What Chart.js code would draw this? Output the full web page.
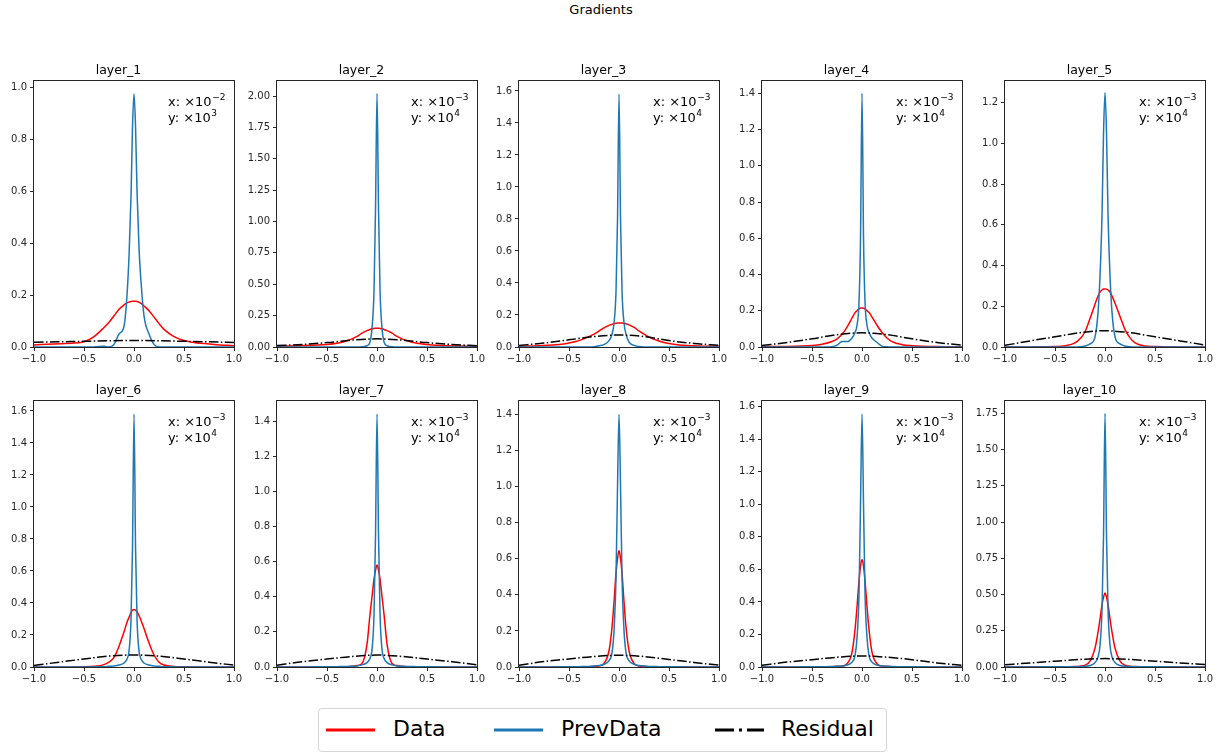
<!DOCTYPE html>
<html>
<head>
<meta charset="utf-8">
<script src="https://cdn.jsdelivr.net/npm/chart.js@4.4.0/dist/chart.umd.min.js"></script>
<style>
  body { margin:0; background:#fff; width:1226px; height:756px; overflow:hidden; position:relative; font-family:"DejaVu Sans", sans-serif; }
  .cell { position:absolute; width:244px; height:310px; }
  #suptitle { position:absolute; top:2px; left:0; width:1202px; text-align:center; font-size:13px; color:#000; }
  #legend { position:absolute; left:318px; top:708px; width:567px; height:42px; border:1px solid #d6d6d6; border-radius:4px; background:#fff; }
  #legend .ln { position:absolute; top:14px; }
  #legend .tx { position:absolute; top:7px; font-size:22px; color:#000; line-height:26px; }
</style>
</head>
<body>
<div id="suptitle">Gradients</div>
<div id="grid"></div>
<div id="legend">
  <svg class="ln" style="left:7px" width="49" height="14"><line x1="0" y1="7" x2="49" y2="7" stroke="#ff0000" stroke-width="3"/></svg>
  <span class="tx" style="left:74px">Data</span>
  <svg class="ln" style="left:175px" width="49" height="14"><line x1="0" y1="7" x2="49" y2="7" stroke="#1f77b4" stroke-width="3"/></svg>
  <span class="tx" style="left:242px">PrevData</span>
  <svg class="ln" style="left:396px" width="49" height="14"><line x1="0" y1="7" x2="49" y2="7" stroke="#000" stroke-width="3" stroke-dasharray="19,5,3,5"/></svg>
  <span class="tx" style="left:462px">Residual</span>
</div>
<script>
// shared x grid for Data / PrevData, coarser grid for Residual
const X  = [-1, -0.8, -0.6, -0.5, -0.4, -0.3, -0.25, -0.2, -0.15, -0.1, -0.07, -0.05, -0.03, -0.015, 0, 0.015, 0.03, 0.05, 0.07, 0.1, 0.15, 0.2, 0.25, 0.3, 0.4, 0.5, 0.6, 0.8, 1];
const RX = [-1, -0.75, -0.5, -0.25, 0, 0.25, 0.5, 0.75, 1];

const layers = ['layer_1','layer_2','layer_3','layer_4','layer_5','layer_6','layer_7','layer_8','layer_9','layer_10'];
const xExp = ['2','3','3','3','3','3','3','3','3','3'];
const yExp = ['3','4','4','4','4','4','4','4','4','4'];
const yMax  = [1.024, 2.12, 1.662, 1.468, 1.306, 1.662, 1.514, 1.474, 1.635, 1.835];
const yStep = [0.2, 0.25, 0.2, 0.2, 0.2, 0.2, 0.2, 0.2, 0.2, 0.25];

const dataL1 = [0.008,0.012,0.015,0.02,0.04,0.075,0.095,0.12,0.145,0.162,0.17,0.173,0.175,0.176,0.176,0.176,0.175,0.172,0.168,0.158,0.14,0.115,0.09,0.068,0.04,0.025,0.017,0.01,0.005];
const prevL1 = [0,0,0,0,0,0.003,0,0.01,0.05,0.08,0.2,0.35,0.58,0.85,0.975,0.85,0.6,0.38,0.25,0.12,0.05,0.01,0,0,0,0,0,0,0];
const resL1  = [0.018,0.02,0.022,0.024,0.025,0.024,0.022,0.02,0.017];

const dataL2 = [0.005,0.01,0.015,0.02,0.03,0.05,0.065,0.085,0.11,0.13,0.14,0.145,0.148,0.15,0.15,0.15,0.148,0.145,0.14,0.13,0.11,0.085,0.065,0.05,0.03,0.02,0.014,0.008,0.004];
const prevL2 = [0,0,0,0,0,0,0,0,0.002,0.01,0.04,0.15,0.45,1.1,2.02,1.1,0.45,0.15,0.04,0.01,0.002,0,0,0,0,0,0,0,0];
const resL2  = [0.012,0.02,0.035,0.055,0.065,0.055,0.035,0.02,0.01];

const dataL3 = [0.005,0.008,0.015,0.025,0.04,0.065,0.08,0.1,0.12,0.135,0.142,0.146,0.148,0.15,0.15,0.15,0.15,0.148,0.145,0.138,0.122,0.1,0.08,0.062,0.038,0.022,0.013,0.006,0.004];
const prevL3 = [0,0,0,0,0,0,0.002,0.008,0.015,0.04,0.08,0.15,0.35,0.8,1.58,0.8,0.35,0.15,0.08,0.03,0.01,0.003,0,0,0,0,0,0,0];
const resL3  = [0.01,0.025,0.045,0.065,0.075,0.065,0.04,0.022,0.01];

const dataL4 = [0.002,0.003,0.005,0.008,0.015,0.03,0.045,0.07,0.11,0.16,0.19,0.2,0.21,0.215,0.215,0.214,0.21,0.2,0.19,0.165,0.12,0.08,0.05,0.03,0.013,0.007,0.004,0.002,0.001];
const prevL4 = [0,0,0,0,0,0.002,0.01,0.03,0.03,0.05,0.08,0.12,0.25,0.6,1.4,0.6,0.25,0.12,0.08,0.05,0.025,0.005,0.001,0,0,0,0,0,0];
const resL4  = [0.008,0.025,0.045,0.068,0.078,0.068,0.045,0.025,0.01];

const dataL5 = [0,0,0.001,0.002,0.006,0.02,0.04,0.075,0.14,0.21,0.25,0.27,0.28,0.285,0.285,0.284,0.28,0.27,0.25,0.215,0.15,0.085,0.045,0.02,0.005,0.002,0.001,0,0];
const prevL5 = [0,0,0,0,0,0,0.001,0.005,0.015,0.05,0.17,0.35,0.65,1.05,1.25,1.05,0.65,0.35,0.17,0.05,0.015,0.005,0.001,0,0,0,0,0,0];
const resL5  = [0.008,0.03,0.05,0.07,0.08,0.07,0.05,0.03,0.01];

const dataL6 = [0,0,0,0.001,0.004,0.015,0.03,0.06,0.13,0.22,0.28,0.31,0.34,0.355,0.36,0.355,0.345,0.32,0.29,0.24,0.15,0.075,0.03,0.012,0.003,0.001,0,0,0];
const prevL6 = [0,0,0,0,0.001,0.002,0.004,0.006,0.012,0.025,0.05,0.1,0.3,0.75,1.58,0.75,0.3,0.1,0.05,0.025,0.012,0.006,0.004,0.002,0.001,0,0,0,0];
const resL6  = [0.01,0.03,0.05,0.068,0.075,0.068,0.05,0.03,0.012];

const dataL7 = [0,0,0,0.001,0.001,0.002,0.004,0.008,0.02,0.13,0.3,0.4,0.5,0.55,0.58,0.55,0.5,0.4,0.3,0.13,0.02,0.008,0.004,0.002,0.001,0.001,0,0,0];
const prevL7 = [0,0,0.001,0.001,0.002,0.003,0.004,0.006,0.012,0.025,0.05,0.1,0.3,0.75,1.44,0.75,0.3,0.1,0.05,0.025,0.012,0.006,0.004,0.003,0.002,0.001,0.001,0,0];
const resL7  = [0.01,0.03,0.045,0.06,0.068,0.06,0.045,0.03,0.012];

const dataL8 = [0,0,0,0.001,0.001,0.002,0.004,0.006,0.02,0.09,0.22,0.36,0.52,0.6,0.645,0.6,0.52,0.36,0.22,0.09,0.02,0.006,0.004,0.002,0.001,0.001,0,0,0];
const prevL8 = [0,0,0.001,0.001,0.002,0.003,0.005,0.008,0.015,0.035,0.08,0.2,0.5,1.0,1.4,1.0,0.5,0.2,0.08,0.035,0.015,0.008,0.005,0.003,0.002,0.001,0.001,0,0];
const resL8  = [0.01,0.03,0.045,0.058,0.065,0.058,0.042,0.025,0.01];

const dataL9 = [0,0,0,0.001,0.001,0.002,0.004,0.006,0.02,0.09,0.23,0.37,0.53,0.62,0.66,0.62,0.53,0.37,0.23,0.09,0.02,0.006,0.004,0.002,0.001,0.001,0,0,0];
const prevL9 = [0,0,0.001,0.001,0.002,0.003,0.004,0.006,0.012,0.03,0.07,0.18,0.45,1.0,1.555,1.0,0.45,0.18,0.07,0.03,0.012,0.006,0.004,0.003,0.002,0.001,0.001,0,0];
const resL9  = [0.01,0.03,0.045,0.06,0.068,0.06,0.045,0.025,0.01];

const dataL10 = [0,0,0.001,0.002,0.002,0.004,0.006,0.012,0.04,0.13,0.24,0.33,0.43,0.48,0.51,0.48,0.43,0.33,0.24,0.13,0.04,0.012,0.006,0.004,0.002,0.002,0.001,0,0];
const prevL10 = [0,0,0.001,0.001,0.002,0.002,0.003,0.005,0.01,0.03,0.07,0.15,0.4,0.9,1.75,0.9,0.4,0.15,0.07,0.03,0.01,0.005,0.003,0.002,0.002,0.001,0.001,0,0];
const resL10  = [0.015,0.028,0.04,0.052,0.058,0.052,0.04,0.028,0.018];

const dataY = [dataL1,dataL2,dataL3,dataL4,dataL5,dataL6,dataL7,dataL8,dataL9,dataL10];
const prevY = [prevL1,prevL2,prevL3,prevL4,prevL5,prevL6,prevL7,prevL8,prevL9,prevL10];
const resY  = [resL1,resL2,resL3,resL4,resL5,resL6,resL7,resL8,resL9,resL10];

function pts(xs, ys){ return xs.map((x,i) => ({x:x, y:ys[i]})); }
function fmt(v, d){ return v.toFixed(d).replace('-', '\u2212'); }

// matplotlib-like box around the axes + the scale annotation
const framePlugin = {
  id: 'frame',
  afterDraw(chart){
    const a = chart.chartArea, c = chart.ctx, i = chart.options.plugins.frame.idx;
    c.save();
    c.strokeStyle = '#262626';
    c.lineWidth = 1;
    c.strokeRect(Math.round(a.left) - 0.5, Math.round(a.top) - 0.5, Math.round(a.right - a.left) + 1, Math.round(a.bottom - a.top) + 1);
    c.fillStyle = '#000';
    c.textBaseline = 'alphabetic';
    const lines = [['x: \u00d710', '\u2212' + xExp[i]], ['y: \u00d710', yExp[i]]];
    lines.forEach((ln, k) => {
      const bx = a.left + 134, by = a.top + 25 + k * 16;
      c.font = '13px "DejaVu Sans"';
      c.fillText(ln[0], bx, by);
      const w = c.measureText(ln[0]).width;
      c.font = '9px "DejaVu Sans"';
      c.fillText(ln[1], bx + w + 0.5, by - 6);
    });
    c.restore();
  }
};

const grid = document.getElementById('grid');
layers.forEach((name, i) => {
  const col = i % 5, row = Math.floor(i / 5);
  const div = document.createElement('div');
  div.className = 'cell';
  div.style.left = Math.round(242.7 * col) + 'px';
  div.style.top = (row === 0 ? 81 - 22 : 401 - 22) + 'px';
  const cv = document.createElement('canvas');
  div.appendChild(cv);
  grid.appendChild(div);

  new Chart(cv.getContext('2d'), {
    type: 'line',
    data: {
      datasets: [
        { label: 'Data', data: pts(X, dataY[i]), borderColor: '#ff0000', borderWidth: 1.5, order: 2 },
        { label: 'PrevData', data: pts(X, prevY[i]), borderColor: '#1f77b4', borderWidth: 1.5, order: 1 },
        { label: 'Residual', data: pts(RX, resY[i]), borderColor: '#000000', borderWidth: 1.5, borderDash: [9.6, 2.4, 1.5, 2.4], order: 0 }
      ]
    },
    options: {
      responsive: true,
      maintainAspectRatio: false,
      animation: false,
      events: [],
      layout: { padding: { left: 0, right: 7, top: 0, bottom: 0 } },
      elements: { point: { radius: 0 }, line: { cubicInterpolationMode: 'monotone', fill: false } },
      plugins: {
        legend: { display: false },
        tooltip: { enabled: false },
        title: { display: true, text: name, color: '#000',
                 font: { family: 'DejaVu Sans', size: 12.5, weight: 'normal', lineHeight: 1.2 },
                 padding: { top: 4, bottom: 3 } },
        frame: { idx: i }
      },
      scales: {
        x: {
          type: 'linear', min: -1, max: 1,
          afterFit: s => { s.height = 22; },
          border: { display: false },
          grid: { display: true, drawOnChartArea: false, drawTicks: true, tickLength: 4, color: '#262626' },
          ticks: { stepSize: 0.5, maxRotation: 0, autoSkip: false, includeBounds: false, padding: 2,
                   color: '#262626', font: { family: 'DejaVu Sans', size: 10 },
                   callback: v => fmt(v, 1) }
        },
        y: {
          type: 'linear', min: 0, max: yMax[i],
          afterFit: s => { s.width = 34; },
          border: { display: false },
          grid: { display: true, drawOnChartArea: false, drawTicks: true, tickLength: 4, color: '#262626' },
          ticks: { stepSize: yStep[i], autoSkip: false, includeBounds: false, padding: 3,
                   color: '#262626', font: { family: 'DejaVu Sans', size: 10 },
                   callback: v => fmt(v, yStep[i] === 0.25 ? 2 : 1) }
        }
      }
    },
    plugins: [framePlugin]
  });
});
</script>
</body>
</html>
